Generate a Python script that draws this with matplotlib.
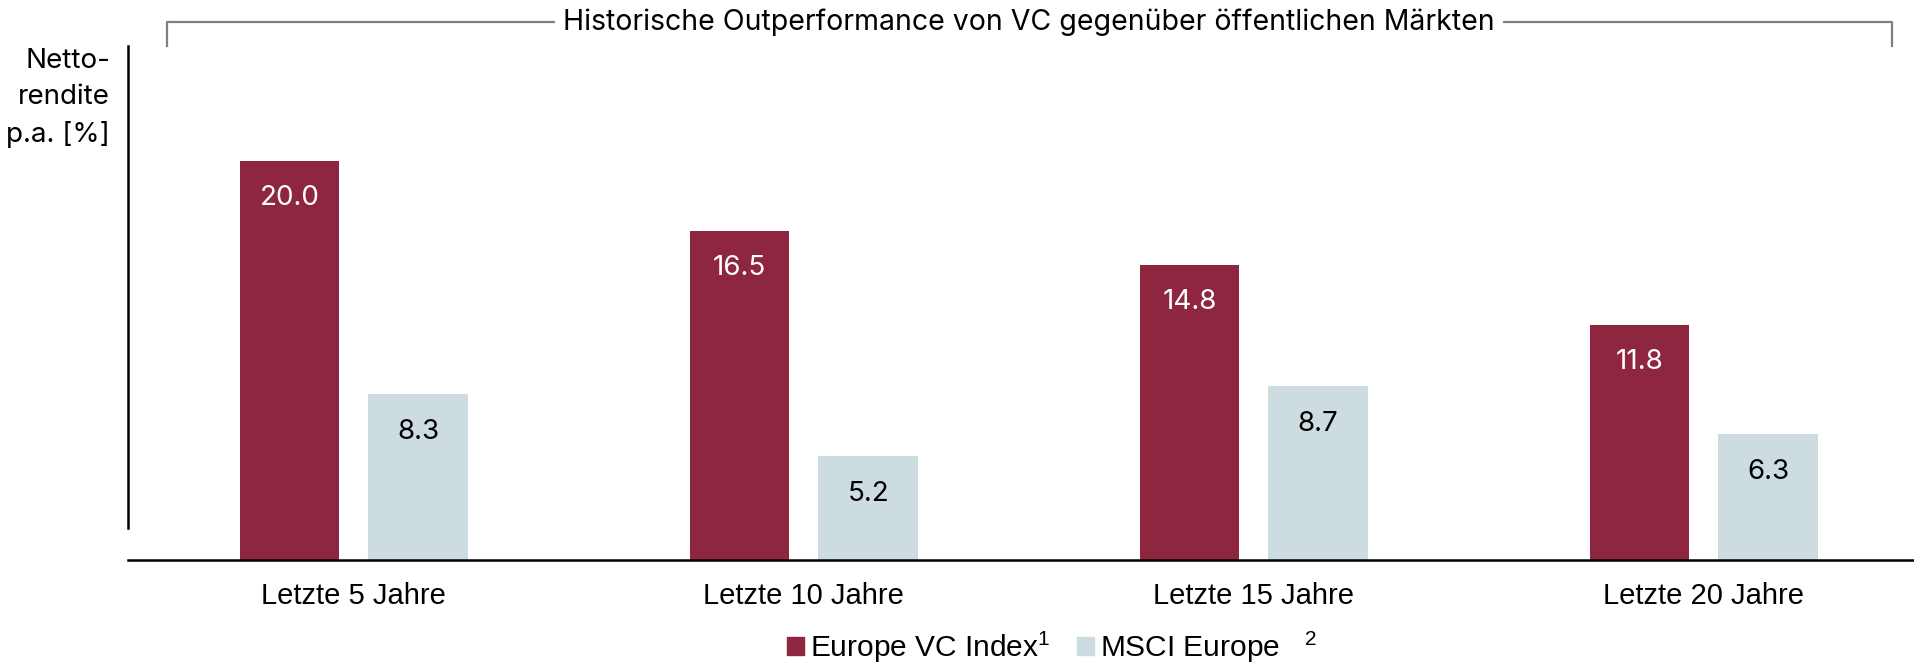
import matplotlib
matplotlib.use("Agg")
import matplotlib.pyplot as plt
import matplotlib.patches as mpatches
from matplotlib.lines import Line2D
import numpy as np

# data
categories = ["Letzte 5 Jahre", "Letzte 10 Jahre", "Letzte 15 Jahre", "Letzte 20 Jahre"]
vc_index = [20.0, 16.5, 14.8, 11.8]
msci_europe = [8.3, 5.2, 8.7, 6.3]
series_labels = ["Europe VC Index$^{1}$", "MSCI Europe   $^{2}$"]

RED = "#8F2640"
LIGHT = "#CDDCE1"
GRAY = "#808080"

plt.rcParams["font.family"] = ["Liberation Sans", "DejaVu Sans"]
plt.rcParams["mathtext.fontset"] = "custom"
plt.rcParams["mathtext.rm"] = "Liberation Sans"
plt.rcParams["mathtext.it"] = "Liberation Sans"

W, H = 1914, 666
fig = plt.figure(figsize=(W / 100, H / 100), dpi=100)
ax = fig.add_axes([128 / W, (H - 560) / H, 1 - 128 / W, (560 - 46) / H])

x = np.arange(len(categories))
bw = 0.222
off = 0.143
b1 = ax.bar(x - off, vc_index, bw, color=RED, edgecolor="none")
b2 = ax.bar(x + off, msci_europe, bw, color=LIGHT, edgecolor="none")

for bars, vals, col in [(b1, vc_index, "white"), (b2, msci_europe, "black")]:
    for bar, v in zip(bars, vals):
        ax.annotate(f"{v:.1f}", (bar.get_x() + bar.get_width() / 2, v),
                    xytext=(0, -27), textcoords="offset points",
                    ha="center", va="center", fontsize=20, color=col,
                    family="Inter")

ax.set_xlim(-0.502, 3.467)
ax.set_ylim(0, 25.76)
ax.set_xticks(x)
ax.set_xticklabels(categories, fontsize=21)
ax.tick_params(axis="x", length=0, pad=16)
ax.set_yticks([])
for s in ["top", "right"]:
    ax.spines[s].set_visible(False)
ax.spines["left"].set_bounds(1.6, 25.76)
ax.spines["left"].set_linewidth(1.8)
ax.spines["bottom"].set_linewidth(1.8)

# y label
fig.text(110 / W, 1 - 48 / H, "Netto-\nrendite\np.a. [%]", ha="right", va="top",
         fontsize=20, family="Inter", linespacing=1.5)

# bracket with title
y_br = 1 - 22 / H
y_end = 1 - 46 / H
fig.add_artist(Line2D([167 / W, 167 / W, 1892 / W, 1892 / W],
                      [y_end, y_br, y_br, y_end], color=GRAY, lw=1.6))
fig.text(1029 / W, y_br, "Historische Outperformance von VC gegenüber öffentlichen Märkten",
         ha="center", va="center", fontsize=20.5, family="Inter",
         bbox=dict(facecolor="white", edgecolor="none", pad=6))

# legend
handles = [mpatches.Patch(color=RED), mpatches.Patch(color=LIGHT)]
fig.legend(handles, series_labels, loc="center", bbox_to_anchor=(1052 / W, 1 - 647 / H),
           ncol=2, frameon=False, fontsize=21.5, handlelength=0.55, handleheight=0.55,
           handletextpad=0.2, columnspacing=0.9, borderpad=0)

fig.savefig("out.png", dpi=100)
